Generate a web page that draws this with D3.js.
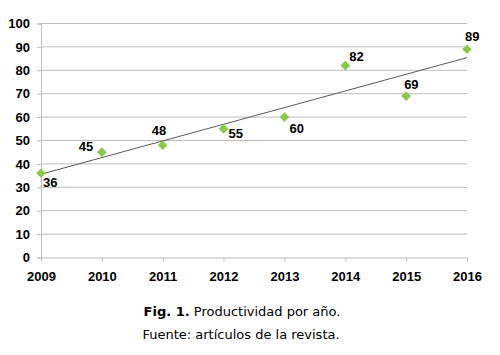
<!DOCTYPE html>
<html><head><meta charset="utf-8">
<script src="https://cdn.jsdelivr.net/npm/d3@7"></script>
<style>body{margin:0;background:#fff}svg{display:block}</style>
</head><body>
<script>
const years = [2009, 2010, 2011, 2012, 2013, 2014, 2015, 2016];
const values = [36, 45, 48, 55, 60, 82, 69, 89];
const yTicks = [0, 10, 20, 30, 40, 50, 60, 70, 80, 90, 100];
const captionBold = "Fig. 1.";
const captionText = " Productividad por año.";
const sourceText = "Fuente: artículos de la revista.";
// label offsets (layout only)
const labelOffsets = [[2, 14], [-23, -1], [-11, -10], [5, 9], [5, 16], [4, -5], [-2, -7], [-2, -8]];

const AX_FONT = "'Liberation Sans', Arial, sans-serif";
const CAP_FONT = "'DejaVu Sans', Verdana, sans-serif";
const W = 500, H = 355;
const svg = d3.select("body").append("svg").attr("width", W).attr("height", H);
const x = d3.scaleLinear().domain([2009, 2016]).range([41, 467]);
const y = d3.scaleLinear().domain([0, 100]).range([257.5, 23.5]);

// gridlines
svg.append("g").selectAll("line").data(yTicks.filter(d => d > 0)).join("line")
  .attr("x1", 41).attr("x2", 467).attr("y1", d => y(d)).attr("y2", d => y(d))
  .attr("stroke", "#bdbdbd").attr("stroke-width", 1);

// y axis
const yAxis = d3.axisLeft(y).tickValues(yTicks).tickSize(4).tickPadding(7);
const gy = svg.append("g").attr("transform", "translate(41,0)").call(yAxis);
gy.attr("font-family", null).attr("font-size", null);
gy.select(".domain").attr("stroke", "#bdbdbd");
gy.selectAll(".tick line").attr("stroke", "#bdbdbd");
gy.selectAll("text").style("font-family", AX_FONT)
  .style("font-weight", "bold").style("font-size", "13px").attr("fill", "#000");

// x axis
const xAxis = d3.axisBottom(x).tickValues(years).tickFormat(d3.format("d")).tickSize(4).tickPadding(10);
const gx = svg.append("g").attr("transform", `translate(0,${y(0)})`).call(xAxis);
gx.attr("font-family", null).attr("font-size", null);
gx.select(".domain").attr("stroke", "#bdbdbd");
gx.selectAll(".tick line").attr("stroke", "#bdbdbd");
gx.selectAll("text").style("font-family", AX_FONT)
  .style("font-weight", "bold").style("font-size", "13px").attr("fill", "#000");

// trendline (linear regression of the data)
const n = years.length;
const mx = d3.mean(years), my = d3.mean(values);
const sxy = d3.sum(years, (d, i) => (d - mx) * (values[i] - my));
const sxx = d3.sum(years, d => (d - mx) ** 2);
const slope = sxy / sxx, icpt = my - slope * mx;
svg.append("line")
  .attr("x1", x(years[0])).attr("y1", y(icpt + slope * years[0]))
  .attr("x2", x(years[n - 1])).attr("y2", y(icpt + slope * years[n - 1]))
  .attr("stroke", "#595959").attr("stroke-width", 1);

// markers
svg.append("g").selectAll("path").data(values).join("path")
  .attr("d", d3.symbol(d3.symbolDiamond2, 60))
  .attr("transform", (d, i) => `translate(${x(years[i])},${y(d)})`)
  .attr("fill", "#8cc84b");

// labels
svg.append("g").selectAll("text").data(values).join("text")
  .attr("x", (d, i) => x(years[i]) + labelOffsets[i][0])
  .attr("y", (d, i) => y(d) + labelOffsets[i][1])
  .text(d => d)
  .style("font-family", AX_FONT)
  .style("font-weight", "bold").style("font-size", "13px").attr("fill", "#000");

// caption
const cap = svg.append("text").attr("x", 242).attr("y", 316).attr("text-anchor", "middle")
  .style("font-family", CAP_FONT).style("font-size", "13px").attr("fill", "#000");
cap.append("tspan").style("font-weight", "bold").text(captionBold);
cap.append("tspan").text(captionText);
svg.append("text").attr("x", 241).attr("y", 339).attr("text-anchor", "middle")
  .style("font-family", CAP_FONT).style("font-size", "13px").attr("fill", "#000")
  .text(sourceText);
</script>
</body></html>
